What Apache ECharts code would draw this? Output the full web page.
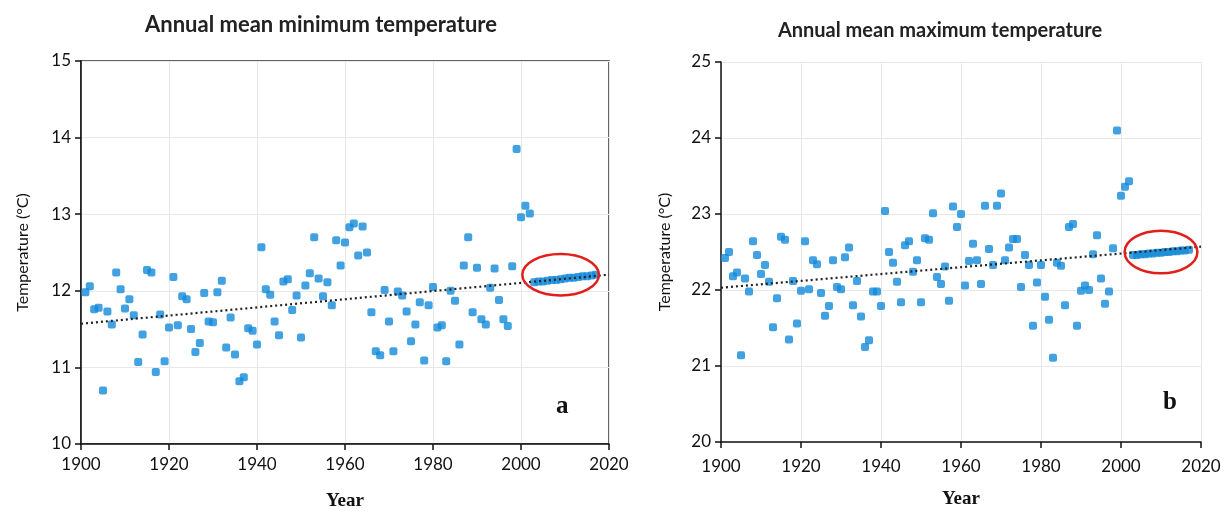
<!DOCTYPE html>
<html>
<head>
<meta charset="utf-8">
<script src="https://cdn.jsdelivr.net/npm/echarts@6/dist/echarts.min.js"></script>
<style>
html,body{margin:0;padding:0;background:#fff;}
#chart{width:1224px;height:516px;}
</style>
</head>
<body>
<div id="chart"></div>
<script>
// ---------- data ----------
const firstYear = 1901;
const futureFirstYear = 2003;
const xTicks = [1900, 1920, 1940, 1960, 1980, 2000, 2020];

const minTemps = [
  11.98, 12.06, 11.76, 11.78, 10.70, 11.73, 11.56, 12.24, 12.02, 11.77,
  11.89, 11.68, 11.07, 11.43, 12.27, 12.24, 10.94, 11.69, 11.08, 11.52,
  12.18, 11.55, 11.93, 11.89, 11.50, 11.20, 11.32, 11.97, 11.60, 11.59,
  11.98, 12.13, 11.26, 11.65, 11.17, 10.82, 10.87, 11.51, 11.48, 11.30,
  12.57, 12.02, 11.95, 11.60, 11.42, 12.12, 12.15, 11.75, 11.94, 11.39,
  12.07, 12.23, 12.70, 12.16, 11.93, 12.11, 11.81, 12.66, 12.33, 12.63,
  12.83, 12.88, 12.46, 12.84, 12.50, 11.72, 11.21, 11.16, 12.01, 11.60,
  11.21, 11.99, 11.94, 11.73, 11.34, 11.56, 11.85, 11.09, 11.81, 12.05,
  11.52, 11.55, 11.08, 12.00, 11.87, 11.30, 12.33, 12.70, 11.72, 12.30,
  11.63, 11.56, 12.04, 12.29, 11.88, 11.63, 11.54, 12.32, 13.85, 12.96,
  13.11, 13.01
];
const minFuture = [12.11, 12.12, 12.12, 12.13, 12.14, 12.14, 12.15, 12.16, 12.17, 12.17, 12.18, 12.19, 12.19, 12.20, 12.21];
const minTrend = [[1900, 11.57], [2020, 12.21]];

const maxTemps = [
  22.42, 22.50, 22.18, 22.23, 21.14, 22.15, 21.98, 22.64, 22.46, 22.21,
  22.33, 22.11, 21.51, 21.89, 22.70, 22.66, 21.35, 22.12, 21.56, 21.99,
  22.64, 22.01, 22.39, 22.34, 21.96, 21.66, 21.79, 22.39, 22.04, 22.01,
  22.43, 22.56, 21.80, 22.12, 21.65, 21.25, 21.34, 21.98, 21.98, 21.79,
  23.04, 22.50, 22.36, 22.11, 21.84, 22.59, 22.64, 22.24, 22.39, 21.84,
  22.68, 22.66, 23.01, 22.17, 22.08, 22.31, 21.86, 23.10, 22.83, 23.00,
  22.06, 22.38, 22.61, 22.39, 22.08, 23.11, 22.54, 22.33, 23.11, 23.27,
  22.39, 22.56, 22.67, 22.67, 22.04, 22.46, 22.33, 21.53, 22.10, 22.33,
  21.91, 21.61, 21.11, 22.36, 22.32, 21.80, 22.83, 22.87, 21.53, 21.99,
  22.06, 22.00, 22.47, 22.72, 22.15, 21.82, 21.98, 22.55, 24.10, 23.24,
  23.36, 23.43
];
const maxFuture = [22.46, 22.46, 22.47, 22.47, 22.48, 22.48, 22.49, 22.49, 22.50, 22.50, 22.51, 22.51, 22.52, 22.52, 22.53];
const maxTrend = [[1900, 22.03], [2020, 22.57]];

// ---------- build ----------
const pairs = (start, vals) => vals.map((v, i) => [start + i, v]);
const BLUE = '#138ad8';
const tickFont = {fontFamily: 'Lato', fontSize: 17, color: '#111'};

function xAxisFor(gridIndex, labelMargin) {
  return {
    type: 'value', gridIndex, min: 1900, max: 2020, interval: 20,
    name: 'Year', nameLocation: 'middle', nameGap: 48,
    nameTextStyle: {fontFamily: 'Liberation Serif', fontWeight: 'bold', fontSize: 19, color: '#111'},
    axisLine: {show: true, onZero: false, lineStyle: {color: '#111', width: 1.5}},
    axisTick: {show: true, inside: false, length: 6, lineStyle: {color: '#111', width: 1.5}},
    axisLabel: Object.assign({margin: labelMargin, formatter: v => String(v)}, tickFont),
    splitLine: {show: true, lineStyle: {color: '#e8e8e8', width: 1}}
  };
}
function yAxisFor(gridIndex, min, max, nameGap) {
  return {
    type: 'value', gridIndex, min, max, interval: 1,
    name: 'Temperature (°C)', nameLocation: 'middle', nameGap, nameRotate: 90,
    nameTextStyle: {fontFamily: 'Lato', fontSize: 16, color: '#111'},
    axisLine: {show: true, onZero: false, lineStyle: {color: '#111', width: 1.5}},
    axisTick: {show: true, inside: false, length: 6, lineStyle: {color: '#111', width: 1.5}},
    axisLabel: Object.assign({margin: 10}, tickFont),
    splitLine: {show: true, lineStyle: {color: '#e8e8e8', width: 1}}
  };
}
function scatter(idx, data) {
  return {
    type: 'scatter', xAxisIndex: idx, yAxisIndex: idx, data,
    symbol: 'roundRect', symbolSize: 8,
    itemStyle: {color: BLUE}, z: 3, silent: true
  };
}
function trend(idx, data) {
  return {
    type: 'line', xAxisIndex: idx, yAxisIndex: idx, data,
    symbol: 'none', lineStyle: {color: '#222', width: 2.2, type: [2, 3]}, z: 5, silent: true
  };
}
function ellipse(idx, center, rxYears, ryDeg) {
  return {
    type: 'custom', xAxisIndex: idx, yAxisIndex: idx, data: [center], z: 6, silent: true,
    renderItem: (params, api) => {
      const c = api.coord([api.value(0), api.value(1)]);
      const s = api.size([rxYears, ryDeg]);
      return {
        type: 'ellipse',
        shape: {cx: c[0], cy: c[1], rx: s[0], ry: s[1]},
        style: {fill: 'none', stroke: '#e0201b', lineWidth: 2.5}
      };
    }
  };
}

const option = {
  animation: false,
  backgroundColor: '#fff',
  title: [
    {text: 'Annual mean minimum temperature', left: 316, top: 9, textAlign: 'center',
     textStyle: {fontFamily: 'Lato', fontWeight: 'bold', fontSize: 22, color: '#222'}},
    {text: 'Annual mean maximum temperature', left: 935, top: 16, textAlign: 'center',
     textStyle: {fontFamily: 'Lato', fontWeight: 'bold', fontSize: 20, color: '#222'}}
  ],
  grid: [
    {left: 81, top: 61, width: 528, height: 386, show: true, borderColor: '#333', borderWidth: 1.5, backgroundColor: 'transparent'},
    {left: 721, top: 62, width: 480, height: 380}
  ],
  xAxis: [xAxisFor(0, 12), xAxisFor(1, 16)],
  yAxis: [yAxisFor(0, 10, 15, 50), yAxisFor(1, 20, 25, 48)],
  series: [
    scatter(0, pairs(firstYear, minTemps)),
    scatter(0, pairs(futureFirstYear, minFuture)),
    trend(0, minTrend),
    ellipse(0, [2009, 12.21], 8.7, 0.27),
    scatter(1, pairs(firstYear, maxTemps)),
    scatter(1, pairs(futureFirstYear, maxFuture)),
    trend(1, maxTrend),
    ellipse(1, [2010, 22.50], 9.1, 0.28)
  ],
  graphic: [
    {type: 'text', left: 556, top: 394, style: {text: 'a', font: 'bold 25px "Liberation Serif"', fill: '#111'}},
    {type: 'text', left: 1163, top: 390, style: {text: 'b', font: 'bold 25px "Liberation Serif"', fill: '#111'}}
  ]
};

const chart = echarts.init(document.getElementById('chart'), null, {renderer: 'canvas'});
chart.setOption(option);
</script>
</body>
</html>
